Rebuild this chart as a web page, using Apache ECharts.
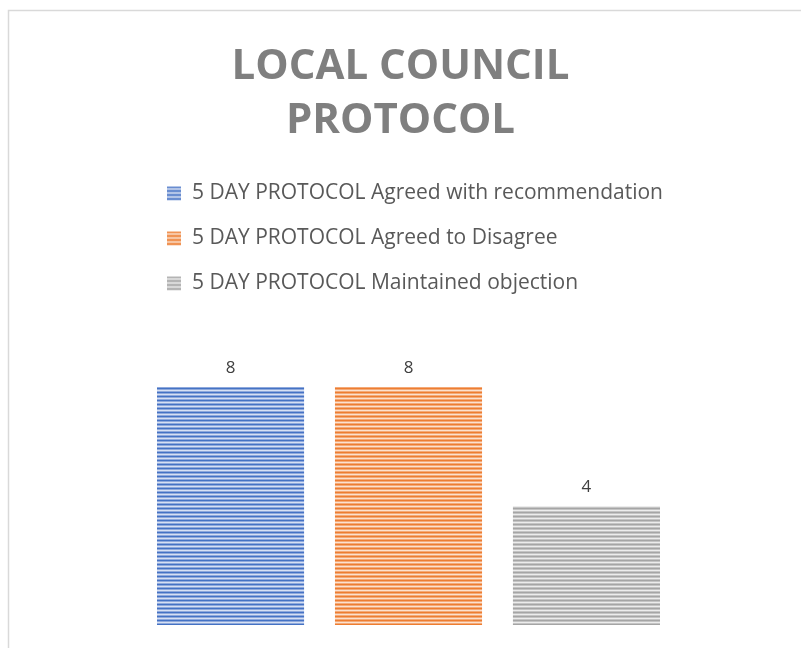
<!DOCTYPE html>
<html>
<head>
<meta charset="utf-8">
<script src="https://cdn.jsdelivr.net/npm/echarts@6/dist/echarts.min.js"></script>
<style>
  html, body { margin: 0; padding: 0; background: #fff; }
  #chart { width: 801px; height: 648px; }
</style>
</head>
<body>
<div id="chart"></div>
<script>
// data
const categories = ['LOCAL COUNCIL PROTOCOL']
const seriesNames = [
  '5 DAY PROTOCOL Agreed with recommendation',
  '5 DAY PROTOCOL Agreed to Disagree',
  '5 DAY PROTOCOL Maintained objection'
]
const seriesValues = [[8], [8], [4]]

// striped fill like the office "horizontal lines" pattern
const makeStripes = (dark, mid, light) => {
  const c = document.createElement('canvas')
  c.width = 4
  c.height = 4
  const ctx = c.getContext('2d')
  ctx.fillStyle = dark
  ctx.fillRect(0, 0, 4, 1)
  ctx.fillStyle = mid
  ctx.fillRect(0, 1, 4, 1)
  ctx.fillStyle = light
  ctx.fillRect(0, 2, 4, 1)
  ctx.fillStyle = mid
  ctx.fillRect(0, 3, 4, 1)
  return { image: c, repeat: 'repeat' }
}

const fills = [
  makeStripes('#4472c4', '#8fa9dc', '#d6e0f3'),
  makeStripes('#ed7d31', '#f4aa78', '#fbe1cf'),
  makeStripes('#a5a5a5', '#c4c4c4', '#ececec')
]

const chart = echarts.init(document.getElementById('chart'))

chart.setOption({
  animation: false,
  title: {
    text: 'LOCAL COUNCIL\nPROTOCOL',
    left: 'center',
    top: 40,
    padding: [0, 0, 0, 16],
    textStyle: {
      fontFamily: 'Open Sans',
      fontWeight: 'bold',
      fontSize: 42,
      lineHeight: 54,
      color: '#7f7f7f'
    }
  },
  legend: {
    orient: 'vertical',
    left: 162,
    top: 178,
    itemWidth: 14,
    itemHeight: 14,
    itemGap: 24,
    icon: 'rect',
    textStyle: {
      fontFamily: 'Open Sans',
      fontSize: 21,
      lineHeight: 21,
      color: '#595959',
      padding: [0, 0, 0, 6]
    },
    data: seriesNames
  },
  graphic: [
    {
      type: 'rect',
      silent: true,
      shape: { x: 8.5, y: 10.5, width: 820, height: 700 },
      style: { fill: 'none', stroke: '#d9d9d9', lineWidth: 1.5 }
    }
  ],
  grid: { left: 157, right: 141, top: 387, bottom: 23 },
  xAxis: {
    type: 'category',
    data: categories,
    show: false
  },
  yAxis: {
    type: 'value',
    min: 0,
    max: 8,
    show: false
  },
  series: seriesNames.map((name, i) => ({
    name,
    type: 'bar',
    data: seriesValues[i],
    barCategoryGap: '0%',
    barGap: '21%',
    itemStyle: { color: fills[i] },
    label: {
      show: true,
      position: 'top',
      distance: 10,
      fontFamily: 'Open Sans',
      fontSize: 17,
      color: '#404040'
    }
  }))
})
</script>
</body>
</html>
